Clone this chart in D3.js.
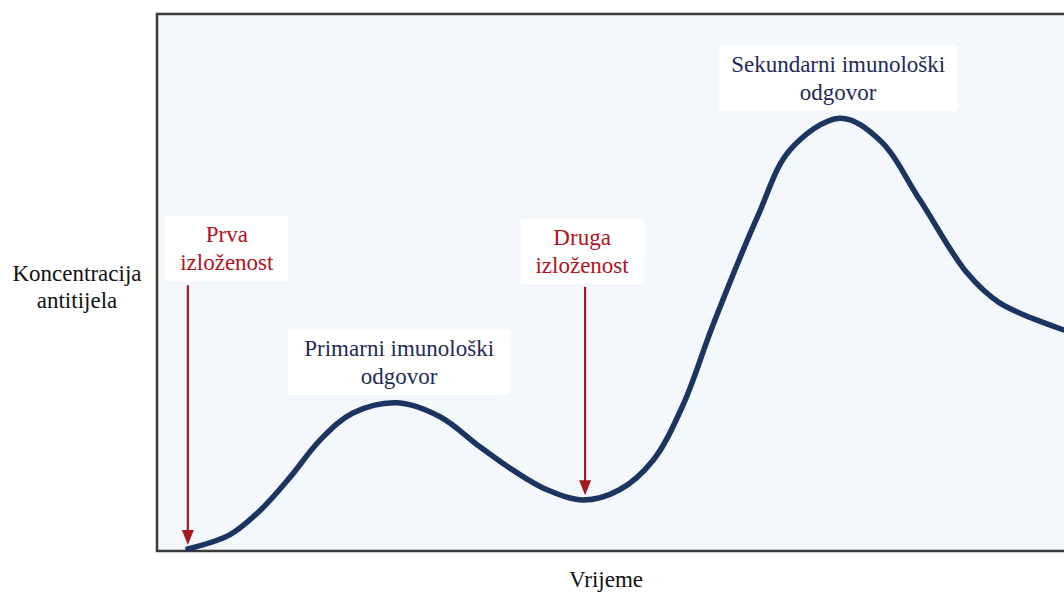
<!DOCTYPE html>
<html>
<head>
<meta charset="utf-8">
<script src="https://cdn.jsdelivr.net/npm/d3@7"></script>
<style>
  body { margin: 0; background: #fff; }
</style>
</head>
<body>
<div id="chart"></div>
<script>
// antibody concentration over time (arbitrary units 0-100)
var time = [3.4, 8.0, 11.4, 14.7, 18.0, 21.6, 26.5, 31.2, 35.6, 39.2, 43.0, 47.0, 51.0, 54.7, 58.0, 61.3, 66.2, 69.8, 75.3, 79.7, 84.1, 89.3, 92.9, 99.9];
var conc = [0.4, 3.0, 7.6, 13.8, 20.7, 25.7, 27.6, 25.0, 19.4, 15.1, 11.4, 9.5, 11.4, 16.9, 27.2, 42.1, 62.2, 74.7, 80.6, 76.5, 65.4, 51.8, 46.2, 41.2];

// exposures: time where arrow points, arrow top / tip (conc), label centre
var exposureTime = [3.4, 47.2];
var exposureTop = [49.5, 49.2];
var exposureTip = [1.1, 10.4];
var exposureLabels = [["Prva", "izloženost"], ["Druga", "izloženost"]];
var exposureLabelY = [56.4, 55.9];

// responses: label centre
var responseTime = [26.7, 75.1];
var responseLabelY = [35.2, 88.1];
var responseLabels = [["Primarni imunološki", "odgovor"], ["Sekundarni imunološki", "odgovor"]];

var yTitle = ["Koncentracija", "antitijela"];
var xTitle = "Vrijeme";

var width = 1064, height = 592;
var margin = {left: 157, top: 14, right: 0, bottom: 41};
var serif = "Liberation Serif";

var svg = d3.select("#chart").append("svg")
  .attr("width", width)
  .attr("height", height);

var x = d3.scaleLinear().domain([0, 100]).range([margin.left, width]);
var y = d3.scaleLinear().domain([0, 100]).range([height - margin.bottom, margin.top]);

var navy = "#1c3461", red = "#a01c1c", textNavy = "#1f2a5a", textRed = "#b5121b";

// plot frame
svg.append("rect")
  .attr("x", x(0)).attr("y", y(100))
  .attr("width", width + 10 - x(0)).attr("height", y(0) - y(100))
  .attr("fill", "#f4f8fc")
  .attr("stroke", "#3a3a3a")
  .attr("stroke-width", 2.5);

var pts = time.map(function(t, i){ return [t, conc[i]]; });
var line = d3.line()
  .x(function(d){ return x(d[0]); })
  .y(function(d){ return y(d[1]); })
  .curve(d3.curveCatmullRom.alpha(0.5));

svg.append("path")
  .datum(pts)
  .attr("d", line)
  .attr("fill", "none")
  .attr("stroke", navy)
  .attr("stroke-width", 5.5)
  .attr("stroke-linecap", "round");

// label box with two lines of text
function labelBox(cx, cy, lines, color, w){
  var g = svg.append("g");
  var fs = 23, lh = 28;
  g.append("rect")
    .attr("x", cx - w/2).attr("y", cy - lh - 4)
    .attr("width", w).attr("height", 2*lh + 9)
    .attr("fill", "#fff");
  lines.forEach(function(l, i){
    g.append("text")
      .attr("x", cx)
      .attr("y", cy - lh/2 + i*lh)
      .attr("dy", "0.35em")
      .attr("text-anchor", "middle")
      .attr("font-size", fs)
      .attr("font-family", serif)
      .attr("fill", color)
      .text(l);
  });
}

// arrows
exposureTime.forEach(function(t, i){
  var ax = x(t), y1 = y(exposureTop[i]), y2 = y(exposureTip[i]);
  svg.append("line")
    .attr("x1", ax).attr("x2", ax)
    .attr("y1", y1).attr("y2", y2 - 12)
    .attr("stroke", red).attr("stroke-width", 2.2);
  svg.append("path")
    .attr("d", "M" + (ax-6) + "," + (y2-15) + "L" + (ax+6) + "," + (y2-15) + "L" + ax + "," + y2 + "Z")
    .attr("fill", red);
  labelBox(ax + (i === 0 ? 39 : -3), y(exposureLabelY[i]), exposureLabels[i], textRed, 123);
});

responseTime.forEach(function(t, i){
  labelBox(x(t), y(responseLabelY[i]), responseLabels[i], textNavy, i === 0 ? 222 : 238);
});

// axis titles
yTitle.forEach(function(l, i){
  svg.append("text")
    .attr("x", 77).attr("y", 273 + i*27)
    .attr("dy", "0.35em")
    .attr("text-anchor", "middle")
    .attr("font-size", 23)
    .attr("font-family", serif)
    .attr("fill", "#111")
    .text(l);
});
svg.append("text")
  .attr("x", 606).attr("y", 579)
  .attr("dy", "0.35em")
  .attr("text-anchor", "middle")
  .attr("font-size", 23)
  .attr("font-family", serif)
  .attr("fill", "#111")
  .text(xTitle);
</script>
</body>
</html>
